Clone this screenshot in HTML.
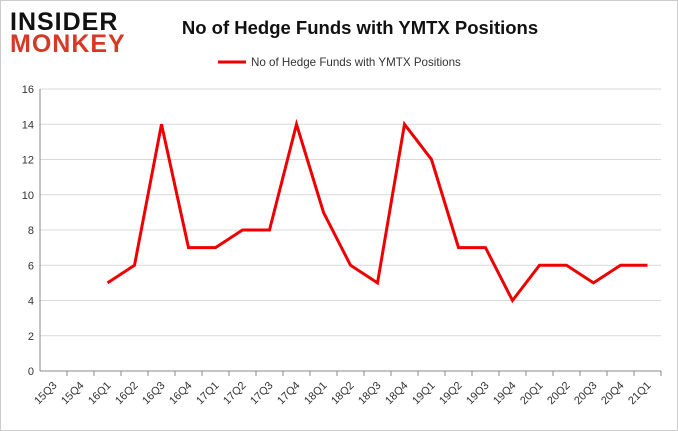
<!DOCTYPE html>
<html><head><meta charset="utf-8"><style>
body{margin:0;background:#fff;}
svg{display:block;font-family:"Liberation Sans",sans-serif;}
</style></head><body>
<svg id="chart" width="678" height="431">
<rect x="0.5" y="0.5" width="677" height="430" fill="#fff" stroke="#ccc"/>
<text x="10" y="30" font-size="25" font-weight="bold" fill="#111" letter-spacing="1">INSIDER</text>
<text x="10" y="52" font-size="25" font-weight="bold" fill="#d63a27" letter-spacing="1">MONKEY</text>
<text x="360" y="34" font-size="18.5" font-weight="bold" text-anchor="middle" fill="#111">No of Hedge Funds with YMTX Positions</text>
<line x1="218" y1="62" x2="246" y2="62" stroke="#e00" stroke-width="3"/>
<text x="251" y="66" font-size="11.6" fill="#333">No of Hedge Funds with YMTX Positions</text>
<g id="grid"></g><g id="axes"></g><g id="series"></g>
</svg>
<script>
const categories=["15Q3","15Q4","16Q1","16Q2","16Q3","16Q4","17Q1","17Q2","17Q3","17Q4","18Q1","18Q2","18Q3","18Q4","19Q1","19Q2","19Q3","19Q4","20Q1","20Q2","20Q3","20Q4","21Q1"];
const values=[null,null,5,6,14,7,7,8,8,14,9,6,5,14,12,7,7,4,6,6,5,6,6];
const yTicks=[0,2,4,6,8,10,12,14,16];
const L=40,R=661,T=89,B=371,yMax=16;
const bw=(R-L)/categories.length;
const xs=i=>L+bw*(i+0.5);
const ys=v=>B-(v/yMax)*(B-T);
const NS="http://www.w3.org/2000/svg";
const grid=document.getElementById('grid'),axes=document.getElementById('axes'),series=document.getElementById('series');
function mk(tag,attrs,parent){const e=document.createElementNS(NS,tag);for(const k in attrs)e.setAttribute(k,attrs[k]);parent.appendChild(e);return e;}
yTicks.forEach(v=>{
  const l=mk('line',{x1:L,x2:R,y1:ys(v),y2:ys(v),stroke:v===0?'#888':'#d9d9d9'},grid);
  
  
  const t=mk('text',{x:L-6,y:ys(v)+4,'font-size':11,'text-anchor':'end',fill:'#333'},axes);
  t.textContent=v;
  
  
});
const ya=mk('line',{x1:L,x2:L,y1:T,y2:B,stroke:'#888'},axes);


categories.forEach((c,i)=>{
  const x=xs(i);
  const tk=mk('line',{x1:L+bw*(i+1),x2:L+bw*(i+1),y1:B,y2:B+5,stroke:'#888'},axes);
  
  
  const t=mk('text',{x:x+4,y:B+15,'font-size':11,'text-anchor':'end',fill:'#333',transform:`rotate(-45 ${x+4} ${B+15})`},axes);
  t.textContent=c;
  
  
});
let d='';values.forEach((v,i)=>{if(v==null)return;d+=(d?'L':'M')+xs(i)+','+ys(v);});
const p=mk('path',{d:d,fill:'none',stroke:'#e00',"stroke-width":3,"stroke-linejoin":"miter"},series);


</script>
</body></html>
